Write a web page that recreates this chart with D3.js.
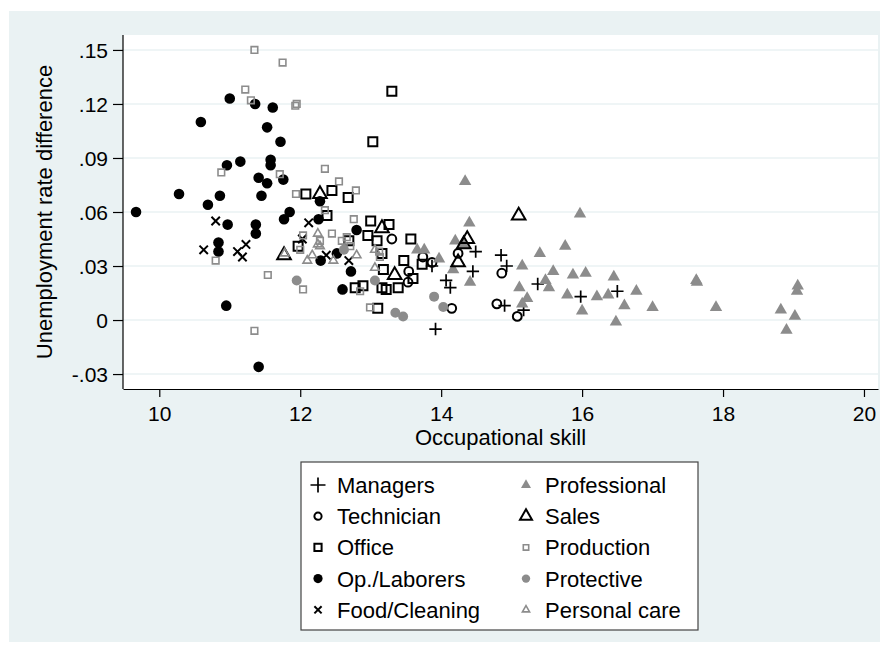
<!DOCTYPE html>
<html>
<head>
<meta charset="utf-8">
<script src="https://cdn.jsdelivr.net/npm/d3@7"></script>
<style>
  body { margin: 0; background: white; }
  text { font-family: "Liberation Sans", Arial, sans-serif; fill: black; }
</style>
</head>
<body>
<div id="chart"></div>
<script>
// Series as [skill, unemployment rate difference]
const categories = ["Managers", "Technician", "Office", "Op./Laborers", "Food/Cleaning",
                    "Professional", "Sales", "Production", "Protective", "Personal care"];

const managers = [[13.92,-0.005],[14.07,0.022],[14.13,0.018],[14.45,0.027],[14.49,0.038],[14.85,0.036],
  [14.93,0.030],[15.37,0.020],[14.90,0.008],[15.17,0.0055],[13.87,0.030],[15.98,0.013],[16.50,0.016]];

const technician = [[13.30,0.045],[13.74,0.035],[13.87,0.032],[13.54,0.027],[13.53,0.021],[14.24,0.037],
  [14.15,0.0065],[14.86,0.026],[14.79,0.009],[15.08,0.002]];

const office = [[13.30,0.127],[13.03,0.099],[12.08,0.070],[12.45,0.072],[12.68,0.068],[12.38,0.058],
  [13.00,0.055],[13.26,0.053],[12.96,0.047],[13.09,0.044],[13.57,0.045],[13.16,0.037],[13.47,0.033],
  [13.73,0.031],[13.18,0.028],[13.60,0.023],[12.78,0.018],[12.89,0.019],[13.16,0.018],[13.22,0.017],
  [13.39,0.018],[13.10,0.0065],[12.69,0.044],[11.97,0.041]];

const laborers = [[9.67,0.060],[10.28,0.070],[10.59,0.110],[11.00,0.123],[11.36,0.120],[11.61,0.118],
  [11.53,0.107],[11.72,0.099],[10.96,0.086],[11.15,0.088],[11.58,0.089],[11.58,0.086],[11.41,0.079],
  [11.53,0.076],[11.76,0.078],[11.45,0.069],[10.69,0.064],[10.86,0.069],[10.97,0.053],[10.84,0.043],
  [10.84,0.038],[11.37,0.053],[11.37,0.048],[11.85,0.060],[11.77,0.056],[10.95,0.008],[11.41,-0.026],
  [12.28,0.066],[12.26,0.056],[12.29,0.033],[12.80,0.050],[12.52,0.037],[12.72,0.027],[12.60,0.017]];

const food = [[10.80,0.055],[10.63,0.039],[11.11,0.038],[11.23,0.042],[11.18,0.035],[12.12,0.054],
  [12.03,0.045],[12.37,0.036],[12.69,0.033]];

const professional = [[14.34,0.077],[14.40,0.054],[14.20,0.044],[14.31,0.042],[13.66,0.039],[13.76,0.039],
  [13.97,0.034],[14.17,0.028],[14.41,0.021],[15.15,0.030],[15.40,0.037],[15.59,0.027],[15.76,0.041],
  [15.87,0.025],[15.48,0.022],[15.53,0.018],[15.11,0.018],[15.22,0.012],[15.15,0.009],[15.79,0.014],
  [15.97,0.059],[16.05,0.026],[16.00,0.005],[16.21,0.013],[16.37,0.014],[16.45,0.024],[16.48,-0.001],
  [16.60,0.008],[16.77,0.016],[17.00,0.007],[17.62,0.022],[17.63,0.021],[17.90,0.007],[18.82,0.0056],
  [18.90,-0.0056],[19.02,0.0022],[19.06,0.019],[19.05,0.016]];

const sales = [[11.77,0.036],[12.28,0.070],[15.10,0.058],[13.16,0.051],[13.34,0.025],[14.37,0.045],
  [14.32,0.042],[14.24,0.032]];

const production = [[11.35,0.150],[11.75,0.143],[11.22,0.128],[11.30,0.122],[11.93,0.119],[11.95,0.120],
  [10.88,0.082],[11.71,0.081],[11.94,0.070],[10.80,0.033],[11.54,0.025],[11.35,-0.006],[12.35,0.084],
  [12.55,0.077],[12.79,0.072],[12.35,0.061],[12.04,0.047],[12.00,0.039],[12.28,0.044],[12.45,0.048],
  [12.59,0.044],[12.66,0.046],[12.76,0.056],[12.04,0.017],[12.85,0.016],[12.99,0.007],[13.12,0.038],
  [12.71,0.041],[13.13,0.035]];

const protective = [[11.95,0.022],[12.62,0.039],[13.06,0.022],[13.35,0.004],[13.46,0.002],[13.90,0.013],
  [14.03,0.0072]];

const personalCare = [[11.78,0.037],[12.25,0.048],[12.25,0.042],[12.10,0.033],[12.28,0.041],[12.47,0.033],
  [12.80,0.036],[13.06,0.039],[13.06,0.029],[12.17,0.036]];

const series = [managers, technician, office, laborers, food, professional, sales, production, protective, personalCare];

const xTicks = [10, 12, 14, 16, 18, 20];
const yTicks = [-0.03, 0, 0.03, 0.06, 0.09, 0.12, 0.15];
const yTickLabels = ["-.03", "0", ".03", ".06", ".09", ".12", ".15"];

// Look of each marker (kind, fill/stroke, size in the plot, size in the legend)
const gris = "#8c8c8c";
const styles = [
  {kind: "plus",     color: "black", size: 6.2, lsize: 7.5, sw: 1.7},
  {kind: "circle",   color: "black", size: 4.4, lsize: 3.6, sw: 2,  hollow: true},
  {kind: "square",   color: "black", size: 4.5, lsize: 3.6, sw: 2,  hollow: true},
  {kind: "circle",   color: "black", size: 5.3, lsize: 4.6},
  {kind: "cross",    color: "black", size: 4.2, lsize: 3.6, sw: 2},
  {kind: "triangle", color: gris,    size: 6.2, lsize: 5},
  {kind: "triangle", color: "black", size: 6.8, lsize: 6,   sw: 2,  hollow: true},
  {kind: "square",   color: gris,    size: 3.3, lsize: 2.7, sw: 1.6, hollow: true},
  {kind: "circle",   color: gris,    size: 5,   lsize: 4.2},
  {kind: "triangle", color: gris,    size: 4.3, lsize: 3.6, sw: 1.6, hollow: true}
];

/* Path of a marker centred on (x, y), s being its half width */
function marqueur(kind, x, y, s) {
  switch (kind) {
    case "plus":   return "M" + (x - s) + "," + y + "H" + (x + s) + "M" + x + "," + (y - s) + "V" + (y + s);
    case "cross":  return "M" + (x - s) + "," + (y - s) + "L" + (x + s) + "," + (y + s) +
                          "M" + (x - s) + "," + (y + s) + "L" + (x + s) + "," + (y - s);
    case "square": return "M" + (x - s) + "," + (y - s) + "H" + (x + s) + "V" + (y + s) + "H" + (x - s) + "Z";
    case "circle": return "M" + (x - s) + "," + y + "A" + s + "," + s + " 0 1,0 " + (x + s) + "," + y +
                          "A" + s + "," + s + " 0 1,0 " + (x - s) + "," + y + "Z";
    case "triangle": {
      let h = s * Math.sqrt(3);
      return "M" + x + "," + (y - h * 2 / 3) + "L" + (x + s) + "," + (y + h / 3) + "L" + (x - s) + "," + (y + h / 3) + "Z";
    }
  }
}

function dessinerMarqueur(g, st, x, y, s) {
  let p = g.append("path").attr("d", marqueur(st.kind, x, y, s));
  if (st.kind == "plus" || st.kind == "cross" || st.hollow) {
    p.attr("fill", "none").attr("stroke", st.color).attr("stroke-width", st.sw);
  } else {
    p.attr("fill", st.color);
  }
}

const width = 888, height = 654;
const plot = {left: 123, right: 878, top: 35, bottom: 389};

const svg = d3.select("#chart").append("svg")
  .attr("width", width)
  .attr("height", height);

// Outer region and white plot region
svg.append("rect").attr("x", 9).attr("y", 11).attr("width", 871).attr("height", 631).attr("fill", "#eaf2f3");
svg.append("rect").attr("x", plot.left).attr("y", plot.top)
  .attr("width", plot.right - plot.left).attr("height", plot.bottom - plot.top).attr("fill", "white");

const x = d3.scaleLinear().domain([9.485, 20.199]).range([plot.left, plot.right]);
const y = d3.scaleLinear().domain([-0.0383, 0.1583]).range([plot.bottom, plot.top]);

// Grid lines
svg.append("g").selectAll("line").data(yTicks).join("line")
  .attr("x1", plot.left).attr("x2", plot.right)
  .attr("y1", d => y(d)).attr("y2", d => y(d))
  .attr("stroke", "#eaf2f3").attr("stroke-width", 1.6);

// Axes
const axeY = svg.append("g").attr("transform", "translate(" + plot.left + ",0)")
  .call(d3.axisLeft(y).tickValues(yTicks).tickFormat((d, i) => yTickLabels[i]).tickSize(10).tickPadding(5).tickSizeOuter(0));
const axeX = svg.append("g").attr("transform", "translate(0," + plot.bottom + ")")
  .call(d3.axisBottom(x).tickValues(xTicks).tickFormat(d3.format("d")).tickSize(8).tickPadding(9).tickSizeOuter(0));
[axeY, axeX].forEach(a => {
  a.select(".domain").attr("stroke", "black").attr("stroke-width", 1.2);
  a.selectAll(".tick line").attr("stroke", "black").attr("stroke-width", 1.2);
  a.selectAll("text").attr("font-family", "Liberation Sans, Arial, sans-serif").attr("font-size", 21).attr("fill", "black");
});
axeY.select(".domain").attr("d", "M0," + plot.top + "V" + plot.bottom);
axeY.selectAll(".tick text").attr("dy", "0.36em");

// Axis titles
svg.append("text").attr("x", (plot.left + plot.right) / 2).attr("y", 445)
  .attr("text-anchor", "middle").attr("font-size", 22).text("Occupational skill");
svg.append("text").attr("transform", "translate(52," + (plot.top + plot.bottom) / 2 + ") rotate(-90)")
  .attr("text-anchor", "middle").attr("font-size", 22).text("Unemployment rate difference");

// Markers, one group per series, drawn in legend order
series.forEach((pts, i) => {
  let g = svg.append("g").attr("class", "serie-" + i);
  pts.forEach(d => dessinerMarqueur(g, styles[i], x(d[0]), y(d[1]), styles[i].size));
});

// Legend
const legende = svg.append("g");
legende.append("rect").attr("x", 301).attr("y", 462).attr("width", 397).attr("height", 168)
  .attr("fill", "white").attr("stroke", "#444").attr("stroke-width", 1.2);
categories.forEach((c, i) => {
  let col = Math.floor(i / 5), row = i % 5;
  let cx = col == 0 ? 318 : 526;
  let cy = 485 + row * 31.2;
  dessinerMarqueur(legende, styles[i], cx, cy, styles[i].lsize);
  legende.append("text").attr("x", cx + 19).attr("y", cy).attr("dy", "0.36em")
    .attr("font-size", 22).text(c);
});
</script>
</body>
</html>
